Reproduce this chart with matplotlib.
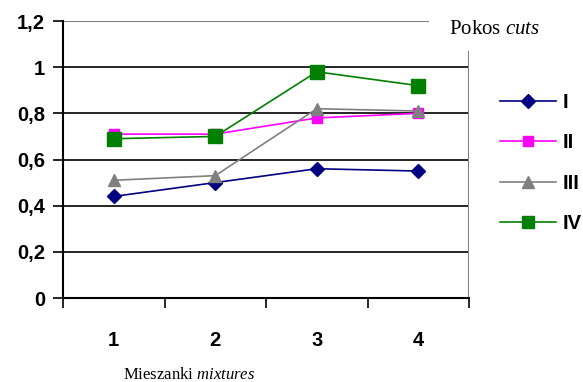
import matplotlib.pyplot as plt
import numpy as np

plt.rcParams["mathtext.fontset"] = "custom"
plt.rcParams["mathtext.rm"] = "Liberation Serif"
plt.rcParams["mathtext.it"] = "Liberation Serif:italic"

# values
mixtures = ["1", "2", "3", "4"]
series_names = ["I", "II", "III", "IV"]
s_I = [0.44, 0.50, 0.56, 0.55]
s_II = [0.71, 0.71, 0.78, 0.80]
s_III = [0.51, 0.53, 0.82, 0.81]
s_IV = [0.69, 0.70, 0.98, 0.92]
y_ticks = [0, 0.2, 0.4, 0.6, 0.8, 1, 1.2]
y_labels = ["0", "0,2", "0,4", "0,6", "0,8", "1", "1,2"]

fig = plt.figure(figsize=(5.83, 3.82), dpi=100)
ax = fig.add_axes([63/583, 84/382, 406/583, 277/382])

x = np.arange(1, len(mixtures) + 1)

# grid lines
for yv in y_ticks[1:-1]:
    ax.axhline(yv, color="black", lw=1.2, zorder=1)
ax.axhline(1.2, xmin=0, xmax=0.899, color="gray", lw=1.5, zorder=1)
ax.axvline(4.5, ymin=0, ymax=0.888, color="gray", lw=1.5, zorder=1)

ax.plot(x, s_I, color="#000080", marker="D", ms=7, lw=1.2, label=series_names[0], zorder=3)
ax.plot(x, s_II, color="#FF00FF", marker="s", ms=7, lw=1.2, label=series_names[1], zorder=3)
ax.plot(x, s_III, color="gray", marker="^", ms=8, lw=1.2, label=series_names[2], zorder=3)
ax.plot(x, s_IV, color="green", marker="s", ms=10, lw=1.2, label=series_names[3], zorder=3)

ax.set_xlim(0.5, 4.5)
ax.set_ylim(0, 1.2)
for sp in ["top", "right"]:
    ax.spines[sp].set_visible(False)
ax.spines["left"].set_linewidth(1.5)
ax.spines["bottom"].set_linewidth(1.5)

tick_font = {"family": "Liberation Sans", "weight": "bold", "size": 14.5}
ax.set_yticks(y_ticks)
ax.set_yticklabels(y_labels, fontdict=tick_font)
ax.set_xticks(np.arange(0.5, 4.6, 1))
ax.set_xticklabels([])
ax.set_xticks(x, minor=True)
ax.set_xticklabels(mixtures, minor=True, fontdict=tick_font)
ax.tick_params(axis="x", which="major", direction="out", length=7, width=1.2)
ax.tick_params(axis="x", which="minor", length=0, pad=24)
ax.tick_params(axis="y", direction="out", length=7, width=1.2, pad=6)

leg = ax.legend(loc="upper left", bbox_to_anchor=(1.076, 0.739), frameon=False,
                prop={"family": "Liberation Sans", "weight": "bold", "size": 14.5},
                handlelength=2.8, labelspacing=1.05, handletextpad=0.3,
                borderpad=0, borderaxespad=0)
for h, ms in zip(leg.legend_handles, [7, 7, 8, 9]):
    h.set_markersize(ms)

fig.text(449/583, 1 - 30/382, "Pokos $\\it{cuts}$", fontsize=15, family="Liberation Serif",
         va="center", ha="left")
fig.text(189/583, 1 - 375/382, "Mieszanki $\\it{mixtures}$", fontsize=12, family="Liberation Serif",
         va="center", ha="center")

fig.savefig("out.png", dpi=100)
